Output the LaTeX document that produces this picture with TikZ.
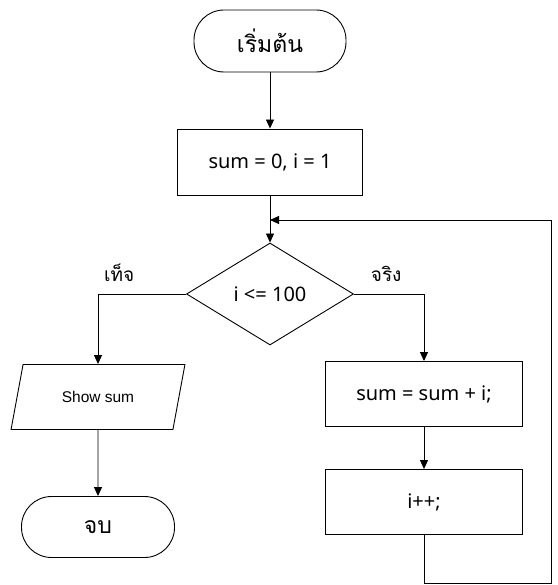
\documentclass[tikz,border=0pt]{standalone}
\usepackage{fontspec}
\setmainfont{Noto Sans}
\newfontfamily\thaifont[Script=Thai]{Loma}
\newfontfamily\arialfont{Liberation Sans}
\usetikzlibrary{shapes.geometric,arrows.meta}

\begin{document}
\begin{tikzpicture}[x=1pt,y=-1pt,line width=0.9pt,
term/.style={draw,rectangle,rounded corners=30pt,minimum width=152pt,
minimum height=62pt,inner sep=0pt,font=\thaifont\fontsize{23}{26}\selectfont},
proc/.style={draw,rectangle,minimum height=66pt,inner sep=0pt,
font=\fontsize{20}{24}\selectfont},
cond/.style={draw,diamond,minimum width=167pt,minimum height=102pt,
inner sep=0pt,font=\fontsize{20}{24}\selectfont},
io/.style={draw,trapezium,trapezium left angle=63,trapezium right angle=117,
trapezium stretches=true,minimum width=174pt,minimum height=65pt,inner sep=0pt,
font=\arialfont\fontsize{15.5}{18}\selectfont},
lbl/.style={above=9pt,font=\thaifont\fontsize{19}{22}\selectfont},
arr/.style={-{Triangle[width=8pt,length=9pt]}}]
\useasboundingbox (0,0) rectangle (557,585);
\node[term] (start) at (270,41) {เริ่มต้น};
\node[proc,minimum width=185pt] (init) at (270,162) {sum = 0, i = 1};
\node[cond] (test) at (270,294) {i <= 100};
\node[io] (show) at (98,397) {Show sum};
\node[term,minimum width=153pt,minimum height=61pt] (stop) at (98,527) {จบ};
\node[proc,minimum width=197pt,minimum height=65pt] (add) at (424,394) {sum = sum + i;};
\node[proc,minimum width=197pt,minimum height=65pt] (inc) at (424,502) {i++;};
\coordinate (back) at (551,583);
\coordinate (loop) at (551,220);
% connectors
\draw[arr] (start) -- (init);
\draw[arr] (init) -- (test);
\draw[arr] (test.west) -| node[lbl,pos=0.38]{เท็จ} (show);
\draw[arr] (test.east) -| node[lbl,pos=0.23]{จริง} (add);
\draw[arr] (show) -- (stop);
\draw[arr] (add) -- (inc);
\draw[arr] (inc.south) |- (back) -- (loop) -- (loop -| test.north);
\end{tikzpicture}
\end{document}
